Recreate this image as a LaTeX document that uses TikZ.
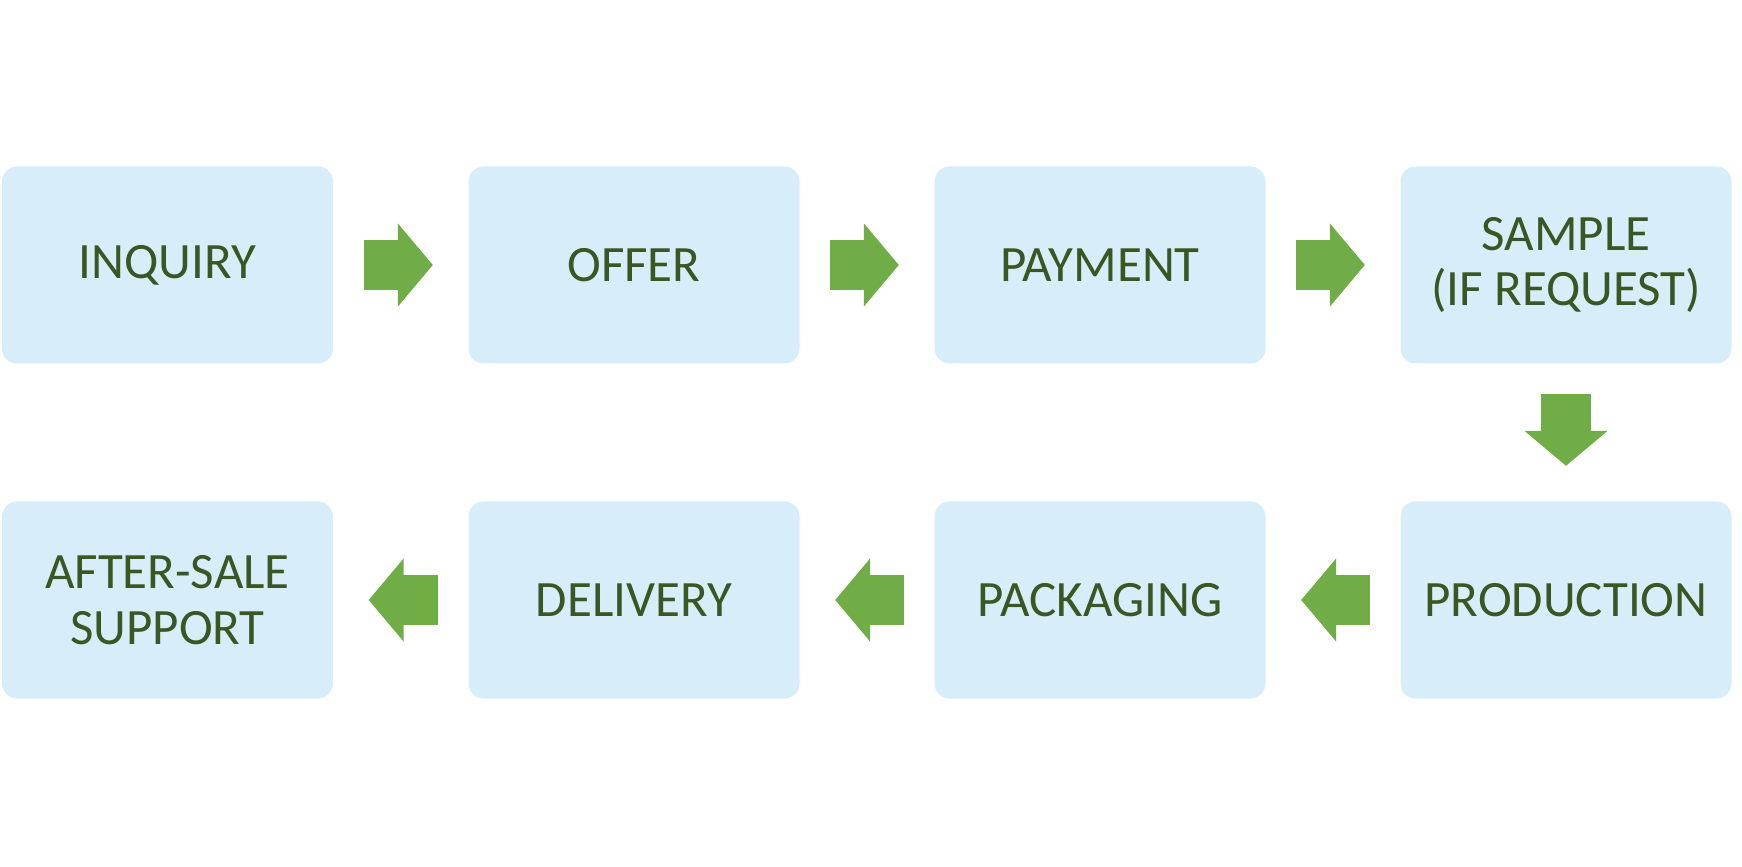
\documentclass[tikz,border=0pt]{standalone}
\usepackage{fontspec}
\setmainfont{Carlito}
\usetikzlibrary{arrows.meta,positioning}
\definecolor{boxfill} {HTML}{D8EDFA}
\definecolor{txtgreen}{HTML}{385723}
\definecolor{arrgreen}{HTML}{70AD47}
\tikzset{
  stepbox/.style ={fill=boxfill, rounded corners=0.15cm,
                   minimum width=3.31cm, minimum height=1.97cm,
                   inner sep=0pt, align=center, text=txtgreen,
                   font=\fontsize{14.5}{15.8}\selectfont},
  blockarr/.style={draw=arrgreen, line width=0.5cm,
                   -{Triangle[length=0.35cm,width=0.83cm,line width=0.5pt]},
                   shorten <=0.30cm, shorten >=0.35cm},
}

\begin{document}
\begin{tikzpicture}[x=1cm,y=1cm]
    \useasboundingbox (0,0) rectangle (17.42,-8.67);

    % Top row
    \node[stepbox] (inq)    at (1.675,-2.65) {INQUIRY};
    \node[stepbox] (offer)  at (6.34,-2.65)  {OFFER};
    \node[stepbox] (pay)    at (11.00,-2.65) {PAYMENT};
    \node[stepbox] (sample) at (15.66,-2.65) {SAMPLE\\(IF REQUEST)};

    % Bottom row
    \node[stepbox] (prod)   at (15.66,-6.00) {PRODUCTION};
    \node[stepbox] (pack)   at (11.00,-6.00) {PACKAGING};
    \node[stepbox] (deliv)  at (6.34,-6.00)  {DELIVERY};
    \node[stepbox] (after)  at (1.675,-6.00) {AFTER-SALE\\SUPPORT};

    % Block arrows
    \draw[blockarr] (inq) -- (offer);
    \draw[blockarr] (offer) -- (pay);
    \draw[blockarr] (pay) -- (sample);
    \draw[blockarr] (sample) -- (prod);
    \draw[blockarr] (prod) -- (pack);
    \draw[blockarr] (pack) -- (deliv);
    \draw[blockarr] (deliv) -- (after);
\end{tikzpicture}
\end{document}
